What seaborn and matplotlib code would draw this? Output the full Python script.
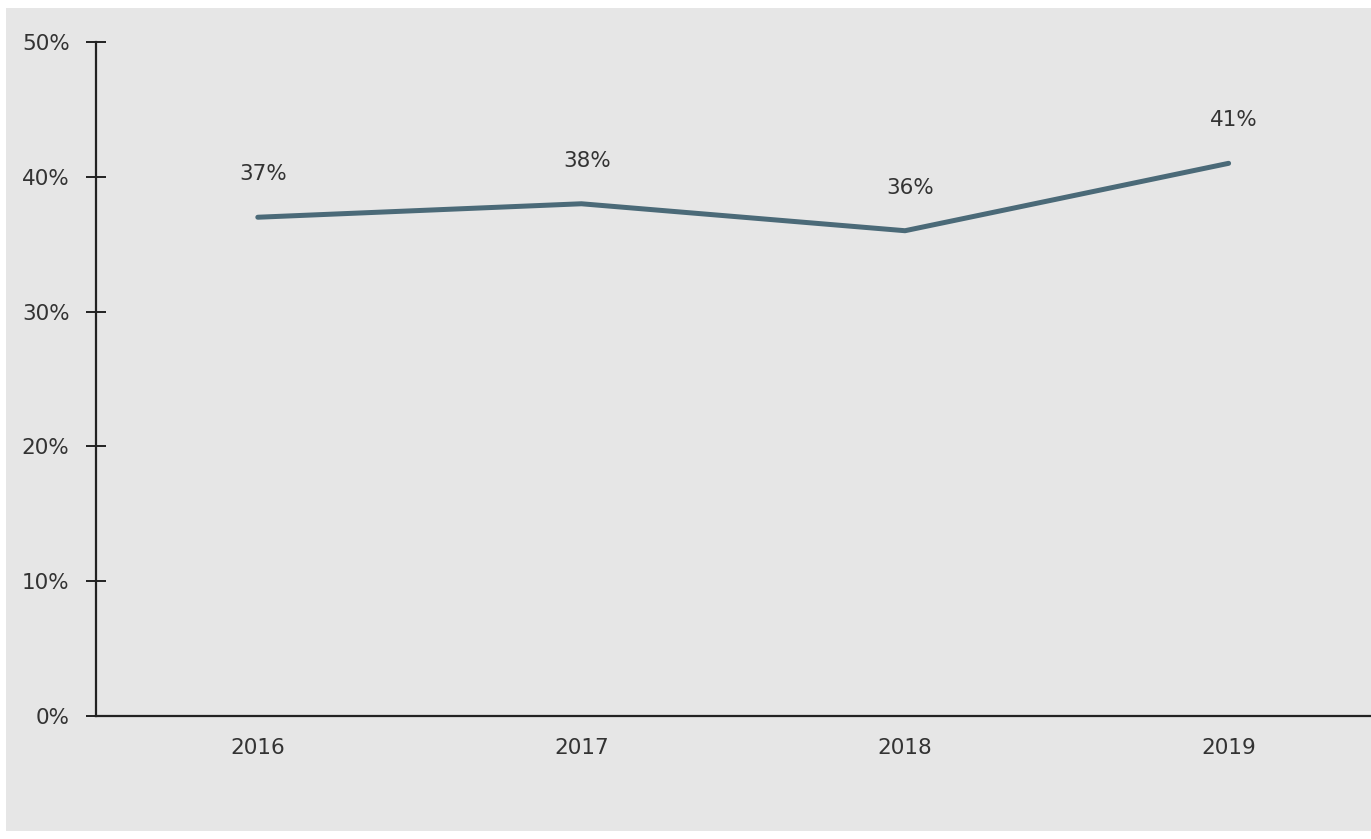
import matplotlib
matplotlib.use("Agg")
import matplotlib.pyplot as plt
import seaborn as sns
from matplotlib.axes import Axes
from matplotlib.patches import Rectangle
from matplotlib.ticker import FuncFormatter, MultipleLocator
from pandas import DataFrame

years = ["2016", "2017", "2018", "2019"]
shares = [37, 38, 36, 41]
labels = ["37%", "38%", "36%", "41%"]

df = DataFrame({"year": years, "share": shares})

bg = "#e6e6e6"
lineColor = "#4b6a78"
textColor = "#333333"
fontSize = 15.5

sns.set_theme(style="white")
plt.rcParams["font.family"] = ["DejaVu Sans"]

fig = plt.figure(figsize=(13.71, 8.39), dpi=100)
fig.patch.set_facecolor("white")
fig.patches.append(
    Rectangle((6 / 1371, 8 / 839), 1 - 6 / 1371, 1 - 16 / 839,
              transform=fig.transFigure, facecolor=bg, edgecolor="none", zorder=-5)
)

ax: Axes = fig.add_axes([96 / 1371, 123 / 839, 1 - 96 / 1371, 674 / 839])
ax.set_facecolor(bg)
ax.set_zorder(1)

sns.lineplot(x="year", y="share", data=df, ax=ax, color=lineColor,
             linewidth=3.6, sort=False)

# value labels above each point
for idx, (val, lab) in enumerate(zip(shares, labels)):
    ax.annotate(lab, (idx, val), xytext=(4, 31), textcoords="offset points",
                ha="center", va="center", fontsize=fontSize, color=textColor)

ax.set_xlim(-0.5, 3.44)
ax.set_ylim(0, 50)
ax.yaxis.set_major_locator(MultipleLocator(10))
ax.yaxis.set_major_formatter(FuncFormatter(lambda v, _: f"{v:.0f}%"))
ax.set_xlabel("")
ax.set_ylabel("")

for side in ["top", "right"]:
    ax.spines[side].set_visible(False)
for side in ["left", "bottom"]:
    ax.spines[side].set_color("#222222")
    ax.spines[side].set_linewidth(1.6)

ax.tick_params(axis="y", direction="inout", length=14, width=1.4, color="#222222",
               labelsize=fontSize, labelcolor=textColor, pad=12, left=True)
ax.tick_params(axis="x", length=0, labelsize=fontSize, labelcolor=textColor, pad=16)

fig.savefig("out.png", dpi=100, facecolor=fig.get_facecolor())
plt.close(fig)
